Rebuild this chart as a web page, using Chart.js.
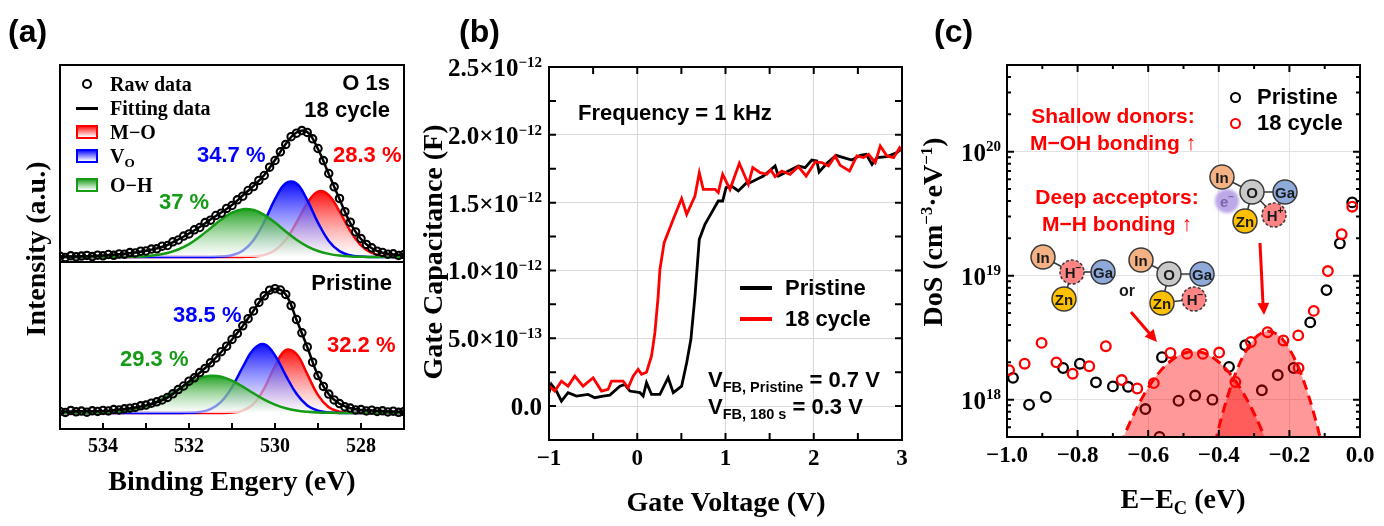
<!DOCTYPE html>
<html>
<head>
<meta charset="utf-8">
<script src="https://cdn.jsdelivr.net/npm/chart.js@4.4.1/dist/chart.umd.min.js"></script>
<style>
  html, body { margin:0; padding:0; background:#fff; }
  #root { position:relative; width:1384px; height:526px; overflow:hidden; background:#fff; }
  #root canvas { position:absolute; top:0; }
  .t { position:absolute; white-space:nowrap; line-height:1; color:#000; }
  .serif { font-family:'Liberation Serif','Times New Roman',serif; font-weight:bold; }
  .sans { font-family:'Liberation Sans',Arial,sans-serif; font-weight:bold; }
  .sup { font-size:0.6em; position:relative; top:-0.62em; }
  .sub { font-size:0.66em; position:relative; top:0.32em; }
  .sym { position:absolute; box-sizing:border-box; }
  svg.ov { position:absolute; left:0; top:0; }
</style>
</head>
<body>
<div id="root">
  <canvas id="chartA" width="430" height="526" style="left:0px"></canvas>
  <canvas id="chartB" width="500" height="526" style="left:430px"></canvas>
  <canvas id="chartC" width="454" height="526" style="left:930px"></canvas>
  <svg class="ov" width="1384" height="526" xmlns="http://www.w3.org/2000/svg">
    <defs>
      <filter id="glow" x="-60%" y="-60%" width="220%" height="220%"><feGaussianBlur stdDeviation="1.6"/></filter>
    </defs>
    <g stroke="#3a3a3a" stroke-width="1.6">
      <line x1="1222" y1="177" x2="1252" y2="192"/>
      <line x1="1252" y1="192" x2="1285" y2="192"/>
      <line x1="1252" y1="192" x2="1245" y2="221"/>
      <line x1="1252" y1="192" x2="1274" y2="215"/>
      <line x1="1043" y1="257" x2="1072" y2="272"/>
      <line x1="1072" y1="272" x2="1103" y2="272"/>
      <line x1="1072" y1="272" x2="1064" y2="299"/>
      <line x1="1141" y1="260" x2="1169" y2="274"/>
      <line x1="1169" y1="274" x2="1202" y2="274"/>
      <line x1="1169" y1="274" x2="1162" y2="303"/>
      <line x1="1162" y1="303" x2="1194" y2="299"/>
    </g>
    <circle cx="1227" cy="201" r="12" fill="#bba8e6" filter="url(#glow)"/>
    <g stroke="#3a3a3a" stroke-width="1.5">
      <circle cx="1222" cy="177" r="12" fill="#f4b183"/>
      <circle cx="1252" cy="192" r="12" fill="#c9c9c9"/>
      <circle cx="1285" cy="192" r="12" fill="#8eaadb"/>
      <circle cx="1245" cy="221" r="12" fill="#ffc000"/>
      <circle cx="1274" cy="215" r="12" fill="#ff8585" stroke-dasharray="3 2"/>
      <circle cx="1043" cy="257" r="12" fill="#f4b183"/>
      <circle cx="1072" cy="272" r="12" fill="#ff8585" stroke-dasharray="3 2"/>
      <circle cx="1103" cy="272" r="12" fill="#8eaadb"/>
      <circle cx="1064" cy="299" r="12" fill="#ffc000"/>
      <circle cx="1141" cy="260" r="12" fill="#f4b183"/>
      <circle cx="1169" cy="274" r="12" fill="#c9c9c9"/>
      <circle cx="1202" cy="274" r="12" fill="#8eaadb"/>
      <circle cx="1162" cy="303" r="12" fill="#ffc000"/>
      <circle cx="1194" cy="299" r="12" fill="#ff8585" stroke-dasharray="3 2"/>
    </g>
    <g font-family="'Liberation Sans',Arial,sans-serif" font-weight="bold" font-size="15" fill="#1a1a1a" text-anchor="middle" dominant-baseline="central">
      <text x="1222" y="177">In</text>
      <text x="1252" y="192">O</text>
      <text x="1285" y="192">Ga</text>
      <text x="1245" y="221">Zn</text>
      <text x="1275" y="215">H<tspan font-size="10" dy="-5">+</tspan></text>
      <text x="1227" y="201" fill="#7a64aa" font-size="15">e<tspan font-size="10" dy="-5">−</tspan></text>
      <text x="1043" y="257">In</text>
      <text x="1073" y="272">H<tspan font-size="10" dy="-5">−</tspan></text>
      <text x="1103" y="272">Ga</text>
      <text x="1064" y="299">Zn</text>
      <text x="1141" y="260">In</text>
      <text x="1169" y="274">O</text>
      <text x="1202" y="274">Ga</text>
      <text x="1162" y="303">Zn</text>
      <text x="1195" y="299">H<tspan font-size="10" dy="-5">−</tspan></text>
      <text x="1127" y="290" font-size="16">or</text>
    </g>
    <g stroke="#ff0000" stroke-width="3" fill="#ff0000">
      <line x1="1131" y1="312" x2="1150" y2="334"/>
      <polygon points="1157,342 1144.6,336.8 1153.6,329" stroke="none"/>
      <line x1="1260" y1="243" x2="1263" y2="304"/>
      <polygon points="1264,315 1257.3,303.3 1269.3,302.7" stroke="none"/>
    </g>
  </svg>
</div>
<script>
// ---------------- DATA ----------------
// (a) XPS O 1s
const xpsRawEnergy = [535,534.875,534.75,534.625,534.5,534.375,534.25,534.125,534,533.875,533.75,533.625,533.5,533.375,533.25,533.125,533,532.875,532.75,532.625,532.5,532.375,532.25,532.125,532,531.875,531.75,531.625,531.5,531.375,531.25,531.125,531,530.875,530.75,530.625,530.5,530.375,530.25,530.125,530,529.875,529.75,529.625,529.5,529.375,529.25,529.125,529,528.875,528.75,528.625,528.5,528.375,528.25,528.125,528,527.875,527.75,527.625,527.5,527.375,527.25,527.125,527];
const xpsRaw18 = [0.8,-0.5,1.2,0.2,0.9,1.6,0.4,1.8,1.2,2.5,1.7,3.1,2.8,4.4,4.1,5.8,6.0,7.9,8.2,10.8,11.5,15.2,17.0,20.9,23.1,27.2,29.5,34.4,36.8,41.5,43.8,48.6,51.5,57.2,60.8,66.5,70.4,76.6,81.5,89.8,96.5,105.2,112.6,120.3,123.8,126.4,124.6,118.2,108.5,96.4,83.5,70.2,58.6,45.3,34.8,25.1,18.4,12.6,9.2,5.8,4.6,2.8,3.2,1.6,2.4];
const xpsRawPristine = [1.5,0.6,2.4,1.2,1.9,0.8,2.2,1.6,2.6,2.1,3.4,3.0,4.2,4.8,5.6,7.2,7.9,9.8,11.2,13.0,15.6,19.2,23.4,27.0,31.8,35.2,40.4,44.6,50.2,55.0,61.3,66.8,73.6,79.5,87.2,94.3,102.1,110.6,117.2,122.8,124.3,123.0,118.6,107.4,93.5,80.2,66.1,50.8,37.4,26.6,18.9,13.1,9.4,6.2,4.9,3.1,3.4,2.0,2.8,1.5,2.2,1.0,1.8,0.7,1.4];
const xpsFitEnergy = [535,534.75,534.5,534.25,534,533.75,533.5,533.25,533,532.75,532.5,532.25,532,531.75,531.5,531.25,531,530.75,530.5,530.25,530,529.75,529.5,529.25,529,528.75,528.5,528.25,528,527.75,527.5,527.25,527];
const fit18 = [0.3,0.5,0.7,1.0,1.5,2.2,3.2,4.6,6.3,8.6,12,17.5,23.5,30,37.5,44.5,52,61.5,71,82,97,113,124.5,125,108,83,58,34,18,8.8,4.2,2.5,2];
const fitPristine = [1.6,1.6,1.7,1.8,2.1,2.8,3.9,5.4,7.6,10.8,15.4,23.2,31.5,40.2,50,61,73.5,87,102.3,117,124,118.5,93.3,66,37.3,18.8,9.2,4.8,3.1,2.4,1.9,1.5,1.3];
const oh18 = [0,0,0,0,0,0,0.1,0.3,0.8,1.9,4.0,7.5,12.9,20.2,28.8,37.4,44.3,47.8,47.0,42.1,34.4,25.6,17.3,10.7,6.0,3.1,1.4,0.6,0.2,0.1,0,0,0];
const vo18 = [0,0,0,0,0,0,0,0,0,0,0,0,0,0,0,0.4,1.8,6.2,16.7,35.2,57.8,73.8,73.5,56.9,34.4,16.1,5.9,1.7,0.4,0,0,0,0];
const mo18 = [0,0,0,0,0,0,0,0,0,0,0,0,0,0,0,0,0,0.1,0.5,2.0,6.7,17.2,34.5,53.8,65.4,61.9,45.6,26.2,11.7,4.1,1.1,0.2,0];
const ohPristine = [0,0,0.1,0.1,0.4,0.9,1.9,3.8,6.8,11.3,17.1,23.7,30.1,35.0,37.2,36.3,32.3,26.4,19.7,13.4,8.4,4.8,2.5,1.2,0.5,0.2,0,0,0,0,0,0,0];
const voPristine = [0,0,0,0,0,0,0,0,0,0,0,0,0.2,1.0,3.9,11.4,25.9,46.0,63.7,68.7,57.6,37.7,19.2,7.6,2.3,0.6,0.1,0,0,0,0,0,0];
const moPristine = [0,0,0,0,0,0,0,0,0,0,0,0,0,0,0,0,0.4,2.4,9.1,24.7,47.0,62.9,59.0,38.8,17.9,5.8,1.3,0.2,0,0,0,0,0];
const xpsTicks = [534,532,530,528];
const xpsTickLabels = ['534','532','530','528'];

// (b) C-V, capacitance in pF (1e-12 F)
const pristineV = [-1.0,-0.973,-0.916,-0.859,-0.784,-0.689,-0.557,-0.481,-0.387,-0.311,-0.197,-0.141,-0.084,0.03,0.067,0.105,0.162,0.257,0.35,0.408,0.503,0.56,0.608,0.654,0.703,0.767,0.843,0.918,0.968,1.006,1.07,1.145,1.24,1.278,1.429,1.562,1.6,1.713,1.826,1.902,1.978,2.035,2.061,2.149,2.254,2.337,2.432,2.527,2.595,2.66,2.716,2.83,2.943,3.0];
const pristineCap = [0.099,0.16,0.111,0.037,0.099,0.074,0.086,0.062,0.074,0.081,0.147,0.16,0.111,0.099,0.074,0.173,0.086,0.086,0.209,0.099,0.147,0.32,0.492,0.811,1.229,1.34,1.426,1.512,1.512,1.61,1.622,1.586,1.647,1.647,1.696,1.77,1.696,1.733,1.77,1.758,1.814,1.807,1.726,1.79,1.849,1.832,1.814,1.849,1.856,1.782,1.832,1.839,1.869,1.899];
const cycleV = [-0.992,-0.935,-0.859,-0.784,-0.708,-0.614,-0.5,-0.405,-0.33,-0.292,-0.16,-0.103,-0.047,0.01,0.049,0.105,0.162,0.2,0.237,0.257,0.305,0.408,0.503,0.56,0.654,0.703,0.748,0.881,0.918,0.968,1.051,1.157,1.259,1.309,1.392,1.468,1.513,1.562,1.638,1.732,1.826,1.914,2.016,2.092,2.167,2.243,2.3,2.405,2.489,2.564,2.621,2.697,2.754,2.83,2.905,2.973,3.0];
const cycleCap = [0.147,0.111,0.184,0.147,0.221,0.147,0.209,0.111,0.123,0.184,0.184,0.135,0.221,0.27,0.234,0.25,0.369,0.541,0.811,1.008,1.205,1.377,1.53,1.414,1.549,1.72,1.598,1.598,1.574,1.709,1.598,1.79,1.635,1.758,1.721,1.709,1.741,1.692,1.733,1.709,1.766,1.696,1.8,1.795,1.77,1.844,1.775,1.733,1.844,1.832,1.856,1.795,1.917,1.844,1.832,1.905,1.88];
const voltTicks = [-1,0,1,2,3];
const voltTickLabels = ['−1','0','1','2','3'];
const capTicks = [0,0.5,1.0,1.5,2.0,2.5];
const capTickLabels = ['0.0','5.0×10<span class="sup">−13</span>','1.0×10<span class="sup">−12</span>','1.5×10<span class="sup">−12</span>','2.0×10<span class="sup">−12</span>','2.5×10<span class="sup">−12</span>'];

// (c) DoS
const pristineE = [-0.983,-0.9375,-0.89,-0.841,-0.7935,-0.748,-0.70,-0.657,-0.608,-0.568,-0.561,-0.514,-0.467,-0.418,-0.371,-0.325,-0.278,-0.233,-0.188,-0.141,-0.095,-0.057,-0.022];
const pristineDoS = [1.50e18,9.1e17,1.05e18,1.8e18,1.95e18,1.38e18,1.28e18,1.27e18,8.4e17,5.0e17,2.2e18,9.8e17,1.08e18,1.0e18,1.84e18,2.75e18,1.19e18,1.58e18,1.8e18,4.2e18,7.65e18,1.82e19,3.9e19];
const cycleE = [-0.994,-0.95,-0.902,-0.86,-0.814,-0.767,-0.72,-0.675,-0.631,-0.584,-0.537,-0.49,-0.445,-0.399,-0.353,-0.309,-0.262,-0.217,-0.175,-0.174,-0.131,-0.091,-0.052,-0.022];
const cycleDoS = [1.73e18,1.95e18,2.87e18,2.0e18,1.62e18,1.86e18,2.7e18,1.44e18,1.23e18,1.36e18,2.38e18,2.34e18,2.34e18,2.4e18,1.39e18,2.92e18,3.5e18,3.0e18,3.3e18,1.8e18,5.2e18,1.09e19,2.16e19,3.6e19];
const deepE = [-0.71,-0.69,-0.67,-0.65,-0.63,-0.61,-0.59,-0.57,-0.55,-0.53,-0.51,-0.49,-0.47,-0.45,-0.43,-0.41,-0.39,-0.37,-0.35,-0.33,-0.31,-0.29,-0.27,-0.25,-0.23];
const deepDoS = [2.47e17,3.56e17,4.97e17,6.73e17,8.83e17,1.12e18,1.38e18,1.645e18,1.90e18,2.12e18,2.30e18,2.41e18,2.45e18,2.41e18,2.30e18,2.12e18,1.90e18,1.645e18,1.38e18,1.12e18,8.83e17,6.73e17,4.97e17,3.56e17,2.47e17];
const shallowE = [-0.44,-0.42,-0.40,-0.38,-0.36,-0.34,-0.32,-0.30,-0.28,-0.26,-0.24,-0.22,-0.20,-0.18,-0.16,-0.14,-0.12,-0.10,-0.08];
const shallowDoS = [1.85e17,3.44e17,5.95e17,9.56e17,1.43e18,1.985e18,2.56e18,3.08e18,3.43e18,3.56e18,3.43e18,3.08e18,2.56e18,1.985e18,1.43e18,9.56e17,5.95e17,3.44e17,1.85e17];
const energyTicks = [-1.0,-0.8,-0.6,-0.4,-0.2,0.0];
const energyTickLabels = ['−1.0','−0.8','−0.6','−0.4','−0.2','0.0'];
const dosTicks = [1e18,1e19,1e20];
const dosTickLabels = ['10<span class="sup">18</span>','10<span class="sup">19</span>','10<span class="sup">20</span>'];

// ---------------- HELPERS ----------------
const SERIF = "'Liberation Serif','Times New Roman',serif";
const root = document.getElementById('root');
const RED = '#ff0000', BLUE = '#0000ff', GREEN = '#169b16';

function pts(xs, ys, off) { off = off || 0; return xs.map((x, i) => ({ x: x, y: ys[i] + off })); }

function T(html, x, y, cls, align, style) {
  const d = document.createElement('div');
  d.className = 't ' + cls;
  d.innerHTML = html;
  let tr;
  if (align === 'rot') tr = 'translate(-50%,-50%) rotate(-90deg)';
  else tr = 'translate(' + (align === 'c' ? '-50%' : align === 'r' ? '-100%' : '0') + ',-50%)';
  d.style.cssText = 'left:' + x + 'px;top:' + y + 'px;transform:' + tr + ';' + (style || '');
  root.appendChild(d);
  return d;
}
function S(x, y, w, h, style) {
  const d = document.createElement('div');
  d.className = 'sym';
  d.style.cssText = 'left:' + x + 'px;top:' + y + 'px;width:' + w + 'px;height:' + h + 'px;' + style;
  root.appendChild(d);
}

function frame(id, cfg) {
  return {
    id: id,
    afterDraw(chart) {
      const ctx = chart.ctx, a = chart.chartArea, xs = chart.scales.x, ys = chart.scales.y;
      ctx.save();
      ctx.strokeStyle = '#000';
      ctx.lineWidth = 2;
      ctx.beginPath();
      (cfg.x || []).forEach(g => g.vals.forEach(v => {
        const p = xs.getPixelForValue(v);
        if (g.bottom) { ctx.moveTo(p, a.bottom); ctx.lineTo(p, a.bottom - g.len); }
        if (g.top) { ctx.moveTo(p, a.top); ctx.lineTo(p, a.top + g.len); }
      }));
      (cfg.y || []).forEach(g => g.vals.forEach(v => {
        const p = ys.getPixelForValue(v);
        if (g.left) { ctx.moveTo(a.left, p); ctx.lineTo(a.left + g.len, p); }
        if (g.right) { ctx.moveTo(a.right, p); ctx.lineTo(a.right - g.len, p); }
      }));
      (cfg.hlines || []).forEach(v => { const p = ys.getPixelForValue(v); ctx.moveTo(a.left, p); ctx.lineTo(a.right, p); });
      ctx.stroke();
      ctx.strokeRect(a.left, a.top, a.right - a.left, a.bottom - a.top);
      ctx.restore();
    }
  };
}

function fadeFill(rgb, topVal, baseVal) {
  return (c) => {
    const ch = c.chart;
    if (!ch.chartArea) return 'rgba(' + rgb + ',0.4)';
    const ys = ch.scales.y;
    const g = ch.ctx.createLinearGradient(0, ys.getPixelForValue(topVal), 0, ys.getPixelForValue(baseVal));
    g.addColorStop(0, 'rgba(' + rgb + ',0.95)');
    g.addColorStop(1, 'rgba(255,255,255,0.55)');
    return g;
  };
}

const common = {
  responsive: false, animation: false, events: [],
  plugins: { legend: { display: false }, tooltip: { enabled: false } }
};
function xAxis(min, max, h, ticks, labels, size, pad, extra) {
  return Object.assign({
    type: 'linear', min: min, max: max,
    border: { display: false },
    grid: { display: false, drawTicks: false },
    afterBuildTicks: s => { s.ticks = ticks.map(v => ({ value: v })); },
    ticks: { padding: pad, color: '#000', maxRotation: 0, autoSkip: false,
             font: { family: SERIF, weight: 'bold', size: size },
             callback: (v, i) => labels[i] },
    afterFit: s => { s.height = h; s.paddingLeft = 0; s.paddingRight = 0; }
  }, extra || {});
}

// ---------------- PANEL (a) ----------------
const TOP_OFFSET = 156;   // vertical stacking offset of the 18 cycle spectrum
const DIVIDER = 151;
function comp(data, off, color, rgb, order) {
  return {
    data: pts(xpsFitEnergy, data, off), borderColor: color, borderWidth: 2.5, pointRadius: 0,
    tension: 0.4, fill: { value: off }, backgroundColor: fadeFill(rgb, off + Math.max(...data), off), order: order
  };
}
const rawStyle = { showLine: false, pointRadius: 3.7, pointBorderWidth: 2.1, pointBorderColor: '#000', pointBackgroundColor: 'rgba(0,0,0,0)', order: 0 };
const fitStyle = { borderColor: '#000', borderWidth: 2.5, pointRadius: 0, tension: 0.4, fill: false, order: 1 };

new Chart(document.getElementById('chartA'), {
  type: 'line',
  data: { datasets: [
    Object.assign({ data: pts(xpsRawEnergy, xpsRaw18, TOP_OFFSET) }, rawStyle),
    Object.assign({ data: pts(xpsRawEnergy, xpsRawPristine, 0) }, rawStyle),
    Object.assign({ data: pts(xpsFitEnergy, fit18, TOP_OFFSET) }, fitStyle),
    Object.assign({ data: pts(xpsFitEnergy, fitPristine, 0) }, fitStyle),
    comp(oh18, TOP_OFFSET, GREEN, '22,155,22', 2),
    comp(vo18, TOP_OFFSET, BLUE, '0,0,255', 3),
    comp(mo18, TOP_OFFSET, RED, '255,0,0', 4),
    comp(ohPristine, 0, GREEN, '22,155,22', 2),
    comp(voPristine, 0, BLUE, '0,0,255', 3),
    comp(moPristine, 0, RED, '255,0,0', 4)
  ]},
  options: Object.assign({}, common, {
    layout: { padding: { top: 65, right: 26, left: 0, bottom: 0 } },
    scales: {
      x: xAxis(527, 535, 97, xpsTicks, xpsTickLabels, 20, 6, { reverse: true }),
      y: { type: 'linear', min: -16, max: 348, border: { display: false },
           grid: { display: false, drawTicks: false }, ticks: { display: false },
           afterFit: s => { s.width = 60; s.paddingTop = 0; s.paddingBottom = 0; } }
    }
  }),
  plugins: [frame('frameA', { x: [{ vals: [534,533,532,531,530,529,528], len: 6, bottom: true }], hlines: [DIVIDER] })]
});

// ---------------- PANEL (b) ----------------
const chartB = new Chart(document.getElementById('chartB'), {
  type: 'line',
  data: { datasets: [
    { data: pts(cycleV, cycleCap), borderColor: RED, borderWidth: 2.8, pointRadius: 0, tension: 0, order: 0 },
    { data: pts(pristineV, pristineCap), borderColor: '#000', borderWidth: 2.8, pointRadius: 0, tension: 0, order: 1 }
  ]},
  options: Object.assign({}, common, {
    layout: { padding: { top: 67, right: 28, left: 0, bottom: 0 } },
    scales: {
      x: xAxis(-1, 3, 86, voltTicks, voltTickLabels, 23, 5, { grid: { display: true, color: '#d9d9d9', lineWidth: 1, drawTicks: false } }),
      y: { type: 'linear', min: -0.25, max: 2.5, border: { display: false },
           grid: { display: true, color: '#d9d9d9', lineWidth: 1, drawTicks: false },
           afterBuildTicks: s => { s.ticks = capTicks.map(v => ({ value: v })); },
           ticks: { display: false },
           afterFit: s => { s.width = 119; s.paddingTop = 0; s.paddingBottom = 0; } }
    }
  }),
  plugins: [frame('frameB', {
    x: [{ vals: [-0.5,0,0.5,1,1.5,2,2.5], len: 7, bottom: true, top: true }],
    y: [{ vals: [0,0.25,0.5,0.75,1,1.25,1.5,1.75,2,2.25], len: 7, left: true, right: true }]
  })]
});

// ---------------- PANEL (c) ----------------
const dosMinor = [];
for (let e = 17; e <= 20; e++) for (let m = 2; m <= 9; m++) { const v = m * Math.pow(10, e); if (v > 5.01e17 && v < 4.99e20) dosMinor.push(v); }
const chartC = new Chart(document.getElementById('chartC'), {
  type: 'line',
  data: { datasets: [
    { data: pts(cycleE, cycleDoS), showLine: false, pointRadius: 4.8, pointBorderWidth: 2.3, pointBorderColor: RED, pointBackgroundColor: 'rgba(0,0,0,0)', order: 0 },
    { data: pts(deepE, deepDoS), borderColor: RED, borderWidth: 3, borderDash: [10, 6], pointRadius: 0, tension: 0.3, fill: 'start', backgroundColor: 'rgba(255,0,0,0.4)', order: 1 },
    { data: pts(shallowE, shallowDoS), borderColor: RED, borderWidth: 3, borderDash: [10, 6], pointRadius: 0, tension: 0.3, fill: 'start', backgroundColor: 'rgba(255,0,0,0.4)', order: 2 },
    { data: pts(pristineE, pristineDoS), showLine: false, pointRadius: 4.8, pointBorderWidth: 2.3, pointBorderColor: '#000', pointBackgroundColor: 'rgba(0,0,0,0)', order: 3 }
  ]},
  options: Object.assign({}, common, {
    layout: { padding: { top: 65, right: 24, left: 0, bottom: 0 } },
    scales: {
      x: xAxis(-1, 0, 89, energyTicks, energyTickLabels, 23, 5, { grid: { display: true, color: '#e2e2e2', lineWidth: 1, drawTicks: false } }),
      y: { type: 'logarithmic', min: 5e17, max: 5e20, border: { display: false },
           grid: { display: true, color: '#e2e2e2', lineWidth: 1, drawTicks: false },
           afterBuildTicks: s => { s.ticks = dosTicks.map(v => ({ value: v })); },
           ticks: { display: false },
           afterFit: s => { s.width = 77; s.paddingTop = 0; s.paddingBottom = 0; } }
    }
  }),
  plugins: [frame('frameC', {
    x: [{ vals: [-0.8,-0.6,-0.4,-0.2], len: 7, bottom: true, top: true },
        { vals: [-0.9,-0.7,-0.5,-0.3,-0.1], len: 4, bottom: true, top: true }],
    y: [{ vals: dosTicks, len: 7, left: true, right: true },
        { vals: dosMinor, len: 4, left: true, right: true }]
  })]
});

// ---------------- TEXT OVERLAYS ----------------
capTicks.forEach((v, i) => T(capTickLabels[i], 430 + chartB.chartArea.left - 7, chartB.scales.y.getPixelForValue(v), 'serif', 'r', 'font-size:25px'));
dosTicks.forEach((v, i) => T(dosTickLabels[i], 930 + chartC.chartArea.left - 6, chartC.scales.y.getPixelForValue(v), 'serif', 'r', 'font-size:25px'));

T('(a)', 8, 31, 'sans', 'l', 'font-size:32px');
T('(b)', 459, 31, 'sans', 'l', 'font-size:32px');
T('(c)', 934, 31, 'sans', 'l', 'font-size:32px');

// panel (a)
T('Intensity (a.u.)', 36, 249, 'serif', 'rot', 'font-size:28px');
T('Binding Engery (eV)', 232, 481, 'serif', 'c', 'font-size:28px');
S(82, 79, 10, 10, 'border:2.4px solid #000;border-radius:50%;');
T('Raw data', 110, 84, 'serif', 'l', 'font-size:20px');
S(76, 107, 22, 3, 'background:#000;');
T('Fitting data', 110, 108, 'serif', 'l', 'font-size:20px');
S(76, 125, 22, 14, 'border:2px solid ' + RED + ';background:linear-gradient(to bottom, rgba(255,0,0,0.9), #fff);');
T('M−O', 110, 132, 'serif', 'l', 'font-size:20px');
S(76, 149, 22, 14, 'border:2px solid ' + BLUE + ';background:linear-gradient(to bottom, rgba(0,0,255,0.9), #fff);');
T('V<span class="sub">O</span>', 110, 156, 'serif', 'l', 'font-size:20px');
S(76, 178, 22, 14, 'border:2px solid ' + GREEN + ';background:linear-gradient(to bottom, rgba(22,155,22,0.9), #fff);');
T('O−H', 110, 185, 'serif', 'l', 'font-size:20px');
T('O 1s', 390, 83, 'sans', 'r', 'font-size:22px');
T('18 cycle', 390, 110, 'sans', 'r', 'font-size:22px');
T('34.7 %', 197, 155, 'sans', 'l', 'font-size:22px;color:' + BLUE);
T('28.3 %', 333, 155, 'sans', 'l', 'font-size:22px;color:' + RED);
T('37 %', 159, 202, 'sans', 'l', 'font-size:22px;color:' + GREEN);
T('Pristine', 392, 283, 'sans', 'r', 'font-size:22px');
T('38.5 %', 173, 315, 'sans', 'l', 'font-size:22px;color:' + BLUE);
T('32.2 %', 327, 345, 'sans', 'l', 'font-size:22px;color:' + RED);
T('29.3 %', 120, 359, 'sans', 'l', 'font-size:22px;color:' + GREEN);

// panel (b)
T('Gate Capacitance (F)', 433, 252, 'serif', 'rot', 'font-size:28px');
T('Gate Voltage (V)', 726, 502, 'serif', 'c', 'font-size:28px');
T('Frequency = 1 kHz', 578, 113, 'sans', 'l', 'font-size:22px');
S(740, 286, 32, 4, 'background:#000;');
T('Pristine', 785, 288, 'sans', 'l', 'font-size:22px');
S(740, 317, 32, 4, 'background:' + RED + ';');
T('18 cycle', 785, 319, 'sans', 'l', 'font-size:22px');
T('V<span class="sub">FB, Pristine</span> = 0.7 V', 708, 380, 'sans', 'l', 'font-size:22px');
T('V<span class="sub">FB, 180 s</span> = 0.3 V', 708, 407, 'sans', 'l', 'font-size:22px');

// panel (c)
T('DoS (cm<span class="sup">−3</span>·eV<span class="sup">−1</span>)', 933, 232, 'serif', 'rot', 'font-size:28px');
T('E−E<span class="sub">C</span> (eV)', 1183, 499, 'serif', 'c', 'font-size:28px');
S(1229.5, 91.5, 11, 11, 'border:2.4px solid #000;border-radius:50%;');
T('Pristine', 1257, 97, 'sans', 'l', 'font-size:22px');
S(1229.5, 118, 11, 11, 'border:2.4px solid ' + RED + ';border-radius:50%;');
T('18 cycle', 1257, 123, 'sans', 'l', 'font-size:22px');
T('Shallow donors:', 1113, 115, 'sans', 'c', 'font-size:21px;color:' + RED);
T('M−OH bonding ↑', 1113, 142, 'sans', 'c', 'font-size:21px;color:' + RED);
T('Deep acceptors:', 1117, 196, 'sans', 'c', 'font-size:21px;color:' + RED);
T('M−H bonding ↑', 1117, 223, 'sans', 'c', 'font-size:21px;color:' + RED);
</script>
</body>
</html>
